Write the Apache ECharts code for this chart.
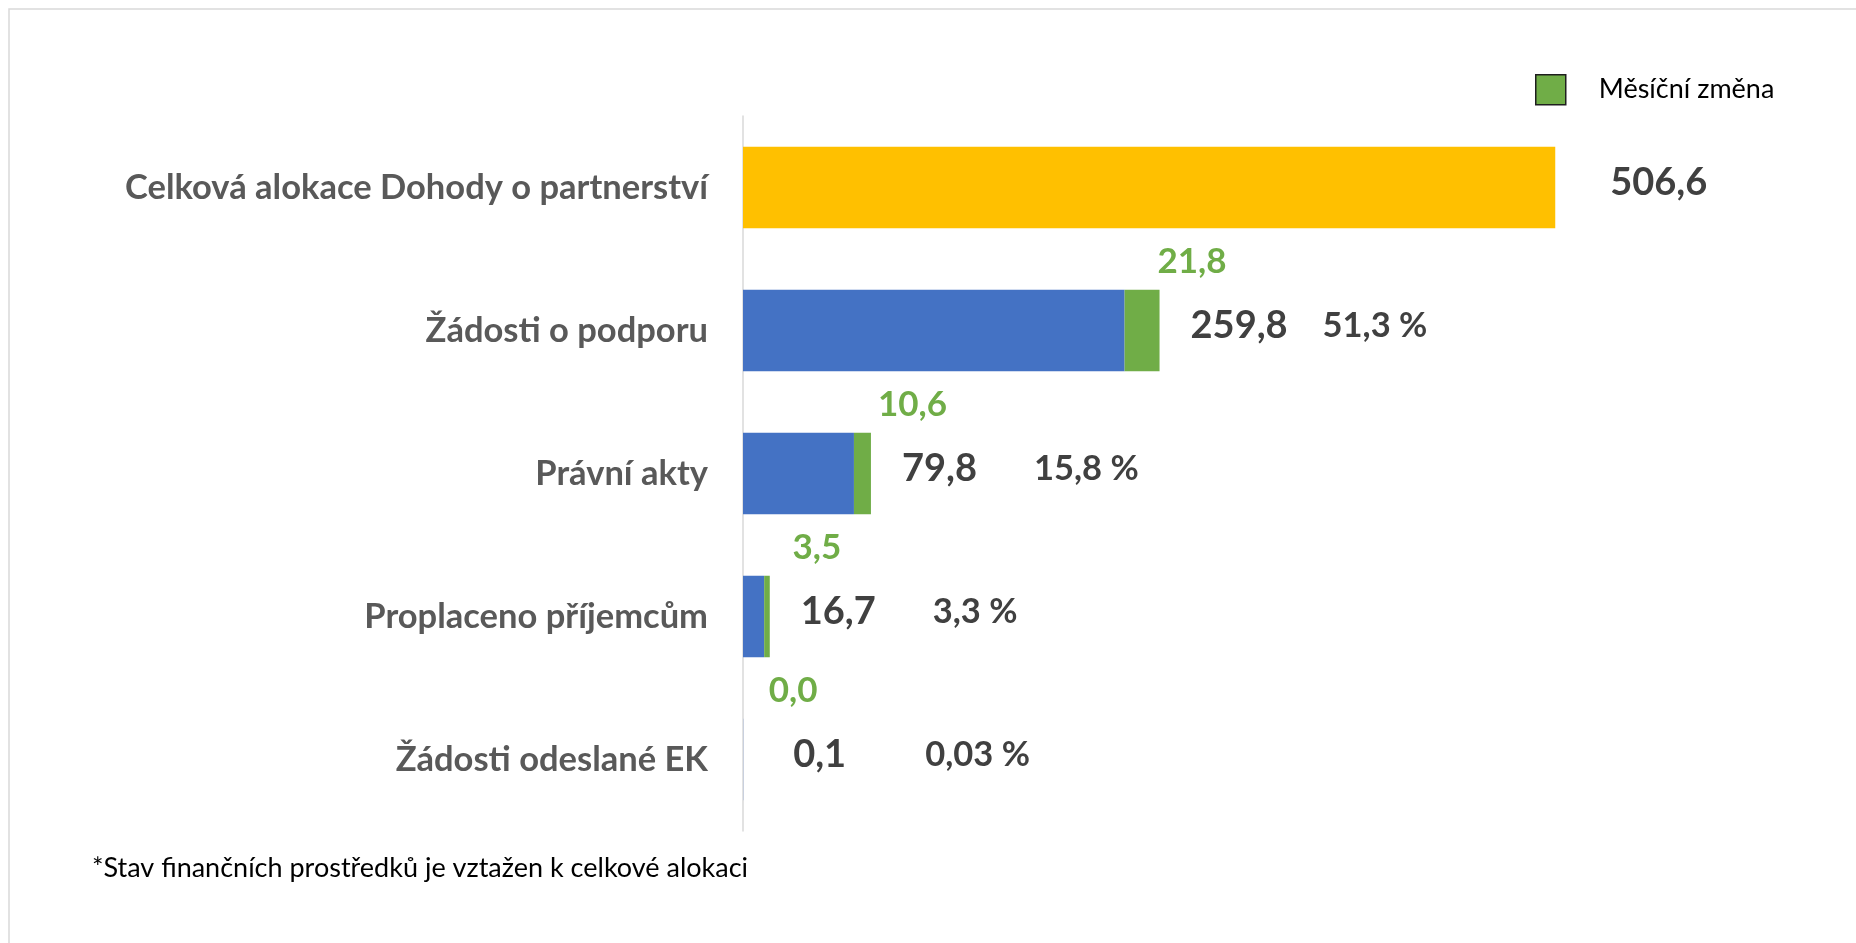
<!DOCTYPE html>
<html>
<head>
<meta charset="utf-8">
<script src="https://cdn.jsdelivr.net/npm/echarts@6/dist/echarts.min.js"></script>
<style>
  html, body { margin: 0; padding: 0; background: #fff; }
  #main { width: 1856px; height: 943px; }
</style>
</head>
<body>
<div id="main"></div>
<script>
// data (mld. Kč)
const categories = ['Celková alokace Dohody o partnerství', 'Žádosti o podporu', 'Právní akty', 'Proplaceno příjemcům', 'Žádosti odeslané EK'];
const totals = [506.6, 259.8, 79.8, 16.7, 0.1];
const changes = [null, 21.8, 10.6, 3.5, 0.0];
const shares = [null, 51.3, 15.8, 3.3, 0.03]; // % of total allocation

const FONT = 'Lato';
const fmt = v => String(v.toFixed(1)).replace('.', ',');
const fmtPct = v => String(v).replace('.', ',') + ' %';

const myChart = echarts.init(document.getElementById('main'));

const baseData = totals.map((t, i) => {
  if (changes[i] == null) return { value: t, itemStyle: { color: '#FFC000' } };
  return +(t - changes[i]).toFixed(2);
});
const changeData = changes.map(c => c == null ? '-' : c);
// first and last labels sit a bit further from their bar
const totalData = totals.map((t, i) => {
  if (i === 0) return { value: t, label: { distance: 55 } };
  if (i === totals.length - 1) return { value: t, label: { distance: 50 } };
  return t;
});

const option = {
  animation: false,
  textStyle: { fontFamily: FONT },
  graphic: [
    {
      type: 'rect',
      shape: { x: 9, y: 9, width: 1900, height: 1000 },
      style: { fill: 'none', stroke: '#d9d9d9', lineWidth: 1.5 },
      silent: true
    },
    {
      type: 'text',
      x: 92,
      y: 868,
      style: {
        text: '*Stav finančních prostředků je vztažen k celkové alokaci',
        font: '27px ' + FONT,
        fill: '#000',
        verticalAlign: 'middle'
      }
    }
  ],
  legend: {
    data: [{ name: 'Měsíční změna', itemStyle: { borderColor: '#1e1e1e', borderWidth: 1.5 } }],
    left: 1530,
    top: 69,
    itemWidth: 30,
    itemHeight: 30,
    icon: 'rect',
    selectedMode: false,
    textStyle: { fontFamily: FONT, fontSize: 27, color: '#000', padding: [0, 0, 0, 28] }
  },
  grid: { left: 743, top: 116, right: 151, bottom: 112 },
  xAxis: {
    type: 'value',
    min: 0,
    max: 600,
    show: false
  },
  yAxis: {
    type: 'category',
    inverse: true,
    data: categories,
    axisLine: { show: true, lineStyle: { color: '#d9d9d9', width: 1.5 } },
    axisTick: { show: false },
    axisLabel: { margin: 35, fontFamily: FONT, fontSize: 34.5, fontWeight: 'bold', color: '#595959' }
  },
  series: [
    {
      name: 'Stav',
      type: 'bar',
      stack: 'a',
      barWidth: '57%',
      itemStyle: { color: '#4472C4' },
      data: baseData
    },
    {
      name: 'Měsíční změna',
      type: 'bar',
      stack: 'a',
      barWidth: '57%',
      itemStyle: { color: '#70AD47' },
      label: {
        show: true,
        position: 'top',
        distance: 11,
        offset: [50, 0],
        fontFamily: FONT,
        fontSize: 35,
        fontWeight: 'bold',
        color: '#70AD47',
        formatter: p => fmt(p.value)
      },
      data: changeData
    },
    {
      name: 'Celkem',
      type: 'bar',
      barGap: '-100%',
      barWidth: '57%',
      silent: true,
      itemStyle: { color: 'transparent' },
      label: {
        show: true,
        position: 'right',
        distance: 31,
        offset: [0, -5],
        formatter: p => {
          const pct = shares[p.dataIndex];
          return pct == null ? '{v|' + fmt(p.value) + '}' : '{w|' + fmt(p.value) + '}{p|' + fmtPct(pct) + '}';
        },
        rich: {
          v: { fontFamily: FONT, fontSize: 38, fontWeight: 'bold', color: '#404040' },
          w: { fontFamily: FONT, fontSize: 38, fontWeight: 'bold', color: '#404040', width: 132 },
          p: { fontFamily: FONT, fontSize: 34.5, fontWeight: 'bold', color: '#404040' }
        }
      },
      data: totalData
    }
  ]
};
myChart.setOption(option);
window.addEventListener('resize', function () {
  myChart.resize();
});
</script>
</body>
</html>
